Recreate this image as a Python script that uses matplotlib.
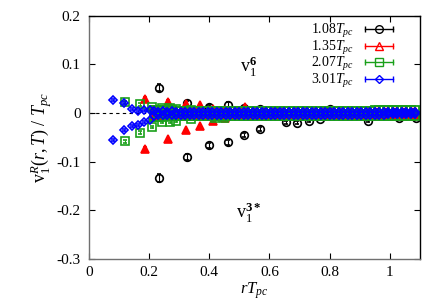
import matplotlib
matplotlib.use('Agg')
import matplotlib.pyplot as plt
from matplotlib.lines import Line2D
from matplotlib.legend_handler import HandlerLine2D, HandlerTuple

plt.rcParams['font.family'] = ['Liberation Serif', 'DejaVu Serif']
plt.rcParams['mathtext.fontset'] = 'custom'
plt.rcParams['mathtext.rm'] = 'Liberation Serif'
plt.rcParams['mathtext.it'] = 'Liberation Serif:italic'
plt.rcParams['mathtext.bf'] = 'Liberation Serif:bold'

labels = ['1.08', '1.35', '2.07', '3.01']

# points off the band (r*Tpc, v1/Tpc, error)
r108 = [0.233, 0.233, 0.326, 0.326, 0.40, 0.40, 0.462, 0.462, 0.516, 0.516, 0.568, 0.568,
        0.655, 0.693, 0.731, 0.767, 0.80, 0.927, 1.03, 1.086, 0.62, 0.88]
v108 = [0.052, -0.134, 0.020, -0.091, 0.013, -0.066, 0.017, -0.060, 0.010, -0.045, 0.008, -0.033,
        -0.019, -0.020, -0.016, -0.012, 0.008, -0.016, -0.010, -0.010, 0.003, -0.004]
e108 = [0.007, 0.008, 0.005, 0.006, 0.004, 0.005, 0.005, 0.005, 0.004, 0.004, 0.004, 0.004,
        0.003, 0.003, 0.003, 0.003, 0.003, 0.003, 0.003, 0.003, 0.003, 0.003]

r135 = [0.186, 0.186, 0.262, 0.262, 0.322, 0.322, 0.369, 0.369, 0.413, 0.413, 0.452, 0.452, 0.518, 0.518]
v135 = [0.029, -0.074, 0.023, -0.054, 0.019, -0.035, 0.017, -0.027, 0.008, -0.017, 0.006, -0.011, 0.013, -0.006]
e135 = [0.004, 0.004, 0.003, 0.003, 0.003, 0.003, 0.002, 0.002, 0.002, 0.002, 0.002, 0.002, 0.002, 0.002]

r207 = [0.119, 0.119, 0.17, 0.17, 0.21, 0.21, 0.243, 0.243, 0.27, 0.27, 0.29, 0.29, 0.34, 0.34, 0.42, 0.45]
v207 = [0.022, -0.058, 0.018, -0.040, 0.012, -0.028, 0.010, -0.018, 0.010, -0.019, 0.008, -0.016, 0.006, -0.012, -0.010, -0.010]
e207 = [0.003, 0.003, 0.003, 0.003, 0.002, 0.002, 0.002, 0.002, 0.002, 0.002, 0.002, 0.002, 0.002, 0.002, 0.002, 0.002]

r301 = [0.081, 0.081, 0.117, 0.117, 0.143, 0.143, 0.163, 0.163, 0.183, 0.183, 0.203, 0.203]
v301 = [0.027, -0.055, 0.021, -0.035, 0.008, -0.027, 0.005, -0.024, 0.006, -0.018, 0.006, -0.014]
e301 = [0.002, 0.002, 0.002, 0.002, 0.002, 0.002, 0.002, 0.002, 0.002, 0.002, 0.002, 0.002]

# dense band of points close to zero: upper and lower values on a common r grid
r_band = [0.215, 0.23, 0.245, 0.26, 0.275, 0.29, 0.305, 0.32, 0.335, 0.35, 0.365, 0.38, 0.395, 0.41,
          0.425, 0.44, 0.455, 0.47, 0.485, 0.50, 0.515, 0.53, 0.545, 0.56, 0.575, 0.59, 0.605, 0.62,
          0.635, 0.65, 0.665, 0.68, 0.695, 0.71, 0.725, 0.74, 0.755, 0.77, 0.785, 0.80, 0.815, 0.83,
          0.845, 0.86, 0.875, 0.89, 0.905, 0.92, 0.935, 0.95, 0.965, 0.98, 0.995, 1.01, 1.025, 1.04,
          1.055, 1.07, 1.085]
band135_hi = [0.006, 0.005, 0.005, 0.006, 0.006, 0.005, 0.005, 0.004, 0.004, 0.005, 0.005, 0.004,
              0.004, 0.005, 0.005, 0.004, 0.004, 0.004, 0.005, 0.004, 0.004, 0.005, 0.004, 0.004,
              0.005, 0.004, 0.004, 0.004, 0.004, 0.005, 0.004, 0.004, 0.005, 0.004, 0.004, 0.004,
              0.004, 0.004, 0.005, 0.004, 0.004, 0.004, 0.004, 0.005, 0.004, 0.004, 0.004, 0.004,
              0.005, 0.004, 0.004, 0.004, 0.004, 0.004, 0.005, 0.004, 0.004, 0.004, 0.004]
band135_lo = [-0.007, -0.006, -0.006, -0.006, -0.005, -0.005, -0.006, -0.006, -0.005, -0.005, -0.004, -0.004,
              -0.005, -0.005, -0.004, -0.004, -0.004, -0.004, -0.004, -0.004, -0.005, -0.005, -0.004, -0.004,
              -0.004, -0.004, -0.004, -0.004, -0.005, -0.005, -0.004, -0.004, -0.004, -0.004, -0.004, -0.004,
              -0.004, -0.004, -0.004, -0.004, -0.004, -0.004, -0.005, -0.005, -0.004, -0.004, -0.004, -0.004,
              -0.004, -0.004, -0.004, -0.004, -0.004, -0.004, -0.004, -0.004, -0.004, -0.004, -0.004]
band207_hi = [0.007, 0.006, 0.006, 0.006, 0.006, 0.005, 0.005, 0.005, 0.005, 0.005, 0.005, 0.005,
              0.005, 0.004, 0.004, 0.005, 0.005, 0.004, 0.004, 0.004, 0.004, 0.004, 0.004, 0.004,
              0.004, 0.004, 0.004, 0.004, 0.004, 0.004, 0.004, 0.004, 0.004, 0.004, 0.004, 0.004,
              0.004, 0.004, 0.004, 0.004, 0.004, 0.004, 0.005, 0.005, 0.005, 0.005, 0.005, 0.005,
              0.005, 0.006, 0.006, 0.006, 0.006, 0.006, 0.006, 0.006, 0.006, 0.006, 0.006]
band207_lo = [-0.009, -0.008, -0.008, -0.007, -0.007, -0.007, -0.007, -0.006, -0.006, -0.006, -0.006, -0.006,
              -0.006, -0.006, -0.006, -0.005, -0.005, -0.005, -0.005, -0.005, -0.005, -0.005, -0.005, -0.005,
              -0.005, -0.005, -0.005, -0.005, -0.005, -0.005, -0.005, -0.005, -0.005, -0.005, -0.005, -0.005,
              -0.005, -0.005, -0.005, -0.005, -0.005, -0.005, -0.005, -0.005, -0.006, -0.006, -0.006, -0.006,
              -0.006, -0.006, -0.006, -0.007, -0.007, -0.007, -0.007, -0.007, -0.007, -0.007, -0.007]
band301_hi = [0.004, 0.003, 0.004, 0.003, 0.004, 0.003, 0.003, 0.003, 0.003, 0.003, 0.003, 0.003,
              0.003, 0.003, 0.003, 0.003, 0.003, 0.003, 0.003, 0.002, 0.003, 0.003, 0.003, 0.003,
              0.003, 0.003, 0.003, 0.002, 0.003, 0.003, 0.003, 0.003, 0.003, 0.003, 0.003, 0.003,
              0.003, 0.002, 0.003, 0.003, 0.003, 0.003, 0.003, 0.003, 0.003, 0.003, 0.003, 0.003,
              0.003, 0.003, 0.002, 0.003, 0.002, 0.002, 0.003, 0.002, 0.002, 0.002, 0.002]
band301_lo = [-0.005, -0.004, -0.004, -0.004, -0.004, -0.004, -0.004, -0.004, -0.004, -0.004, -0.003, -0.003,
              -0.004, -0.004, -0.003, -0.003, -0.003, -0.003, -0.004, -0.004, -0.003, -0.003, -0.003, -0.003,
              -0.003, -0.003, -0.004, -0.004, -0.003, -0.003, -0.003, -0.003, -0.003, -0.003, -0.003, -0.003,
              -0.004, -0.004, -0.003, -0.003, -0.003, -0.003, -0.003, -0.003, -0.003, -0.003, -0.003, -0.003,
              -0.003, -0.003, -0.003, -0.003, -0.002, -0.002, -0.002, -0.002, -0.002, -0.002, -0.002]

fig = plt.figure(figsize=(4.36, 3.05), dpi=100)
ax = fig.add_axes([0.204, 0.151, 0.759, 0.797])

ax.axhline(0, color='black', lw=0.8, ls=(0, (3, 3)), zorder=0)

styles = [
    ('black', 'o', 'none', 5.5),
    ('red', '^', 'red', 5.5),
    ('#1aa01a', 's', 'none', 5.5),
    ('blue', 'D', 'none', 4.5),
]
series = [(r108, v108, e108, []), (r135, v135, e135, [band135_hi, band135_lo]),
          (r207, v207, e207, [band207_hi, band207_lo]), (r301, v301, e301, [band301_hi, band301_lo])]

handles = []
for (col, mk, fc, ms), (r, v, e, bands), lab in zip(styles, series, labels):
    for band in bands:
        ax.errorbar(r_band, band, yerr=0.002, fmt=mk, color=col, mfc=fc, mec=col,
                    ms=ms, mew=1.3, elinewidth=0.8, capsize=1.5, zorder=2)
    ax.errorbar(r, v, yerr=e, fmt=mk, color=col, mfc=fc, mec=col,
                ms=ms, mew=1.2, elinewidth=0.8, capsize=1.5, zorder=2)
    caps = Line2D([], [], color=col, lw=1.0, marker='|', ms=5)
    mark = Line2D([], [], color=col, ls='none', marker=mk, mfc='none', mec=col, ms=ms, mew=1.0)
    handles.append((caps, mark))

hmap = {h[0]: HandlerLine2D(numpoints=2) for h in handles}
hmap[tuple] = HandlerTuple(ndivide=1)
leg = ax.legend(handles, [r'$%s T_{pc}$' % l for l in labels], handler_map=hmap,
                loc='upper right', bbox_to_anchor=(0.965, 1.02), frameon=False,
                markerfirst=False, fontsize=10, handlelength=2.6, handletextpad=0.5,
                labelspacing=-0.1, borderpad=0.3)

ax.text(0.53, 0.095, r'$\mathrm{v}_1^{\mathbf{6}}$', fontsize=13, ha='center', va='center')
ax.text(0.53, -0.205, r'$\mathrm{v}_1^{\mathbf{3*}}$', fontsize=13, ha='center', va='center')

ax.set_xlim(0, 1.1)
ax.set_ylim(-0.3, 0.2)
ax.set_xticks([0, 0.2, 0.4, 0.6, 0.8, 1])
ax.set_xticklabels(['0', '0.2', '0.4', '0.6', '0.8', '1'])
ax.set_yticks([-0.3, -0.2, -0.1, 0, 0.1, 0.2])
ax.set_yticklabels(['-0.3', '-0.2', '-0.1', '0', '0.1', '0.2'])
ax.tick_params(direction='in', top=True, right=True, length=4, labelsize=11, width=0.8)
ax.tick_params(axis='x', pad=5)
ax.tick_params(axis='y', pad=6)
for s in ['left', 'bottom']:
    ax.spines[s].set_color('#707070')
for s in ax.spines.values():
    s.set_linewidth(1.0)

ax.set_xlabel(r'$rT_{pc}$', fontsize=12, labelpad=1)
ax.set_ylabel(r'$\mathrm{v}_1^R(r,T)\ /\ T_{pc}$', fontsize=13, labelpad=2)

fig.savefig('out.png', dpi=100)
